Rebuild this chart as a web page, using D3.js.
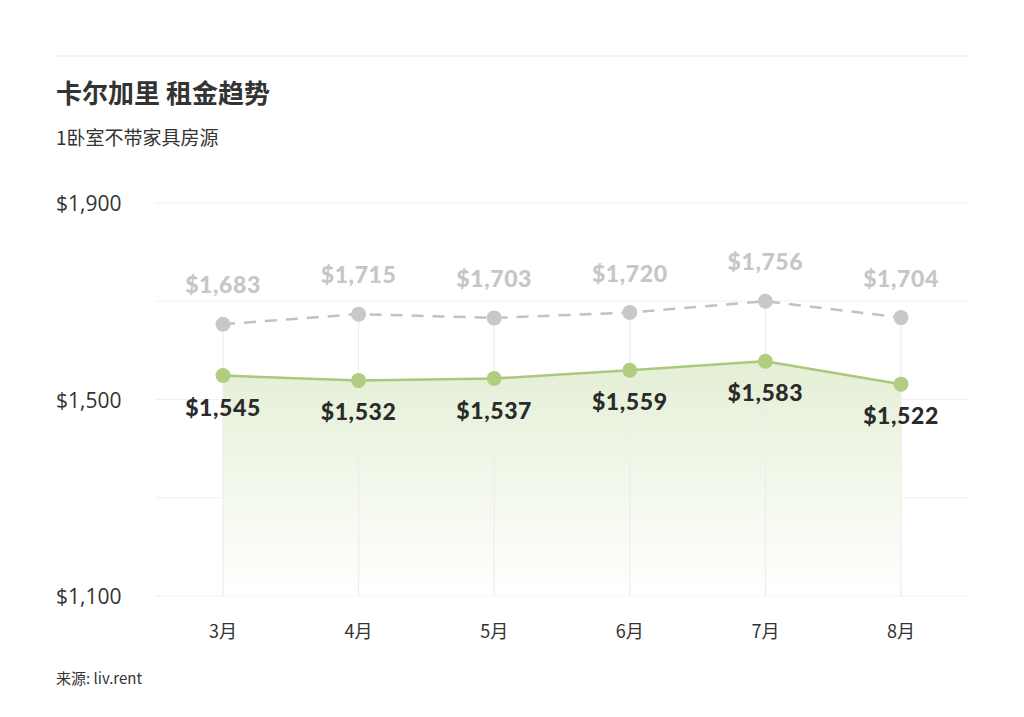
<!DOCTYPE html>
<html>
<head>
<meta charset="utf-8">
<script src="https://cdn.jsdelivr.net/npm/d3@7"></script>
<style>
  body { margin: 0; background: #fff; }
  svg { display: block; }
</style>
</head>
<body>
<svg id="chart" width="1024" height="717"></svg>
<script>
// data
var months = ["3月", "4月", "5月", "6月", "7月", "8月"];
var unfurnished = [1545, 1532, 1537, 1559, 1583, 1522];   // green, 1 bedroom unfurnished
var furnished = [1683, 1715, 1703, 1720, 1756, 1704];     // grey dashed
var yTicks = [1100, 1500, 1900];
var yGrid = [1100, 1300, 1500, 1700, 1900];

var cjk = "'Noto Sans CJK SC', 'Noto Sans', sans-serif";
var numFont = "Lato, 'Noto Sans', sans-serif";

var svg = d3.select("#chart");

var x = d3.scalePoint().domain(months).range([223, 901]);
// axis scale (gridlines + tick labels)
var y = d3.scaleLinear().domain([1100, 1900]).range([596, 203]);
// the two series are squeezed into their own bands in the original
var yGreen = d3.scaleLinear().domain([1500, 1600]).range([392.4, 354.9]);
var yGrey = d3.scaleLinear().domain([1650, 1750]).range([334.6, 303.1]);

var fmt = function(v) { return "$" + d3.format(",")(v); };

// top separator
svg.append("line")
    .attr("x1", 56).attr("x2", 968).attr("y1", 56).attr("y2", 56)
    .attr("stroke", "#efefef").attr("stroke-width", 1.5);

svg.append("text").attr("x", 56).attr("y", 103)
    .style("font-family", cjk).style("font-weight", 700).style("font-size", "26px")
    .attr("fill", "#333").text("卡尔加里 租金趋势");

svg.append("text").attr("x", 56).attr("y", 145)
    .style("font-family", cjk).style("font-size", "19px")
    .attr("fill", "#333").text("1卧室不带家具房源");

// gradient for the area
var grad = svg.append("defs").append("linearGradient")
    .attr("id", "greenFill").attr("x1", 0).attr("x2", 0).attr("y1", 0).attr("y2", 1);
grad.append("stop").attr("offset", "0%").attr("stop-color", "#e4efd5");
grad.append("stop").attr("offset", "100%").attr("stop-color", "#ffffff");

// horizontal gridlines
svg.append("g").selectAll("line")
    .data(yGrid).enter().append("line")
    .attr("x1", 155).attr("x2", 968)
    .attr("y1", function(d) { return y(d); })
    .attr("y2", function(d) { return y(d); })
    .attr("stroke", "#f0f0f0").attr("stroke-width", 1.2);

// area under the green line
var area = d3.area()
    .x(function(d, i) { return x(months[i]); })
    .y0(y(1100))
    .y1(function(d) { return yGreen(d); });

svg.append("path")
    .datum(unfurnished)
    .attr("d", area)
    .attr("fill", "url(#greenFill)");

// vertical gridlines
svg.append("g").selectAll("line")
    .data(months).enter().append("line")
    .attr("x1", function(d) { return x(d); })
    .attr("x2", function(d) { return x(d); })
    .attr("y1", function(d, i) { return yGrey(furnished[i]); })
    .attr("y2", y(1100))
    .attr("stroke", "#ededed").attr("stroke-width", 1.2);

// y tick labels
svg.append("g").selectAll("text")
    .data(yTicks).enter().append("text")
    .attr("x", 56)
    .attr("y", function(d) { return y(d) + 8; })
    .style("font-family", "'Open Sans', 'Noto Sans', sans-serif")
    .style("font-size", "21px")
    .attr("fill", "#333")
    .text(fmt);

// x labels
svg.append("g").selectAll("text")
    .data(months).enter().append("text")
    .attr("x", function(d) { return x(d); })
    .attr("y", 638)
    .attr("text-anchor", "middle")
    .style("font-family", cjk).style("font-size", "18px")
    .attr("fill", "#333")
    .text(function(d) { return d; });

// grey dashed series
var greyLine = d3.line()
    .x(function(d, i) { return x(months[i]); })
    .y(function(d) { return yGrey(d); });

svg.append("path")
    .datum(furnished)
    .attr("d", greyLine)
    .attr("fill", "none")
    .attr("stroke", "#c2c2c2")
    .attr("stroke-width", 2.5)
    .attr("stroke-dasharray", "12,9");

svg.append("g").selectAll("circle")
    .data(furnished).enter().append("circle")
    .attr("cx", function(d, i) { return x(months[i]); })
    .attr("cy", function(d) { return yGrey(d); })
    .attr("r", 7.5)
    .attr("fill", "#c8c8c8");

svg.append("g").selectAll("text")
    .data(furnished).enter().append("text")
    .attr("x", function(d, i) { return x(months[i]); })
    .attr("y", function(d) { return yGrey(d) - 31; })
    .attr("text-anchor", "middle")
    .style("font-family", numFont).style("font-weight", 900).style("font-size", "23px")
    .style("letter-spacing", "0.6px")
    .attr("fill", "#c6c6c6")
    .text(fmt);

// green series
var greenLine = d3.line()
    .x(function(d, i) { return x(months[i]); })
    .y(function(d) { return yGreen(d); });

svg.append("path")
    .datum(unfurnished)
    .attr("d", greenLine)
    .attr("fill", "none")
    .attr("stroke", "#aac97c")
    .attr("stroke-width", 2.5);

svg.append("g").selectAll("circle")
    .data(unfurnished).enter().append("circle")
    .attr("cx", function(d, i) { return x(months[i]); })
    .attr("cy", function(d) { return yGreen(d); })
    .attr("r", 7.5)
    .attr("fill", "#b1cd80");

svg.append("g").selectAll("text")
    .data(unfurnished).enter().append("text")
    .attr("x", function(d, i) { return x(months[i]); })
    .attr("y", function(d) { return yGreen(d) + 40; })
    .attr("text-anchor", "middle")
    .style("font-family", numFont).style("font-weight", 900).style("font-size", "23px")
    .style("letter-spacing", "0.6px")
    .attr("fill", "#2b2b2b")
    .text(fmt);

// source
svg.append("text").attr("x", 56).attr("y", 684)
    .style("font-family", cjk).style("font-size", "15px")
    .attr("fill", "#333").text("来源: liv.rent");
</script>
</body>
</html>
